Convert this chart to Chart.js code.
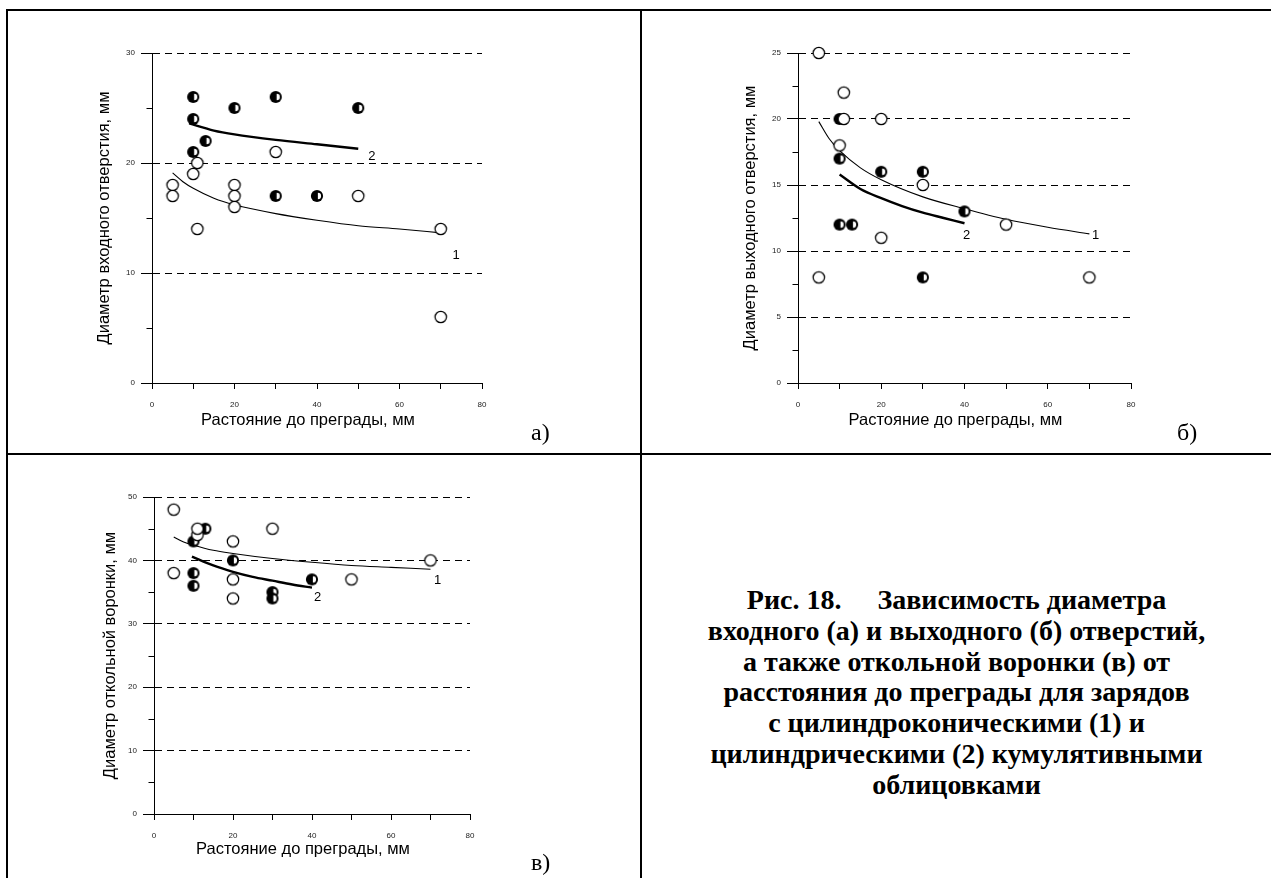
<!DOCTYPE html>
<html>
<head>
<meta charset="utf-8">
<script src="https://cdn.jsdelivr.net/npm/chart.js@4.4.1/dist/chart.umd.min.js"></script>
<style>
  html, body { margin: 0; padding: 0; background: #fff; }
  body { width: 1271px; height: 878px; position: relative; overflow: hidden;
         font-family: "Liberation Serif", "Times New Roman", serif; color: #000; }
  .rule { position: absolute; background: #000; }
  .panel { position: absolute; }
  .tag { position: absolute; font-size: 24px; line-height: 24px; }
  #caption { position: absolute; left: 642px; width: 629px; top: 585px; text-align: center;
             font-weight: bold; font-size: 28px; line-height: 30.8px; white-space: nowrap; }
  #caption .gap { display: inline-block; width: 36px; }
</style>
</head>
<body>

<!-- table rules -->
<div class="rule" style="left:6px;top:9px;width:1265px;height:2px"></div>
<div class="rule" style="left:6px;top:9px;width:2px;height:869px"></div>
<div class="rule" style="left:6px;top:453px;width:1265px;height:2px"></div>
<div class="rule" style="left:640px;top:9px;width:2px;height:869px"></div>

<canvas id="chartA" class="panel" style="left:40px;top:20px" width="580" height="425"></canvas>
<canvas id="chartB" class="panel" style="left:685px;top:20px" width="580" height="425"></canvas>
<canvas id="chartC" class="panel" style="left:40px;top:465px" width="580" height="405"></canvas>

<div class="tag" style="left:531px;top:420px">а)</div>
<div class="tag" style="left:1177px;top:420px">б)</div>
<div class="tag" style="left:531px;top:850px">в)</div>

<div id="caption">Рис. 18.<span class="gap"></span>Зависимость диаметра<br>входного (а) и выходного (б) отверстий,<br>а также откольной воронки (в) от<br>расстояния до преграды для зарядов<br>с цилиндроконическими (1) и<br>цилиндрическими (2) кумулятивными<br>облицовками</div>

<script>
// ---- а) entry-hole diameter ----
const distA_open = [5, 5, 10, 11, 11, 20, 20, 20, 30, 50, 70, 70];
const diamA_open = [18, 17, 19, 20, 14, 18, 17, 16, 21, 17, 14, 6];
const distA_half = [10, 10, 10, 13, 20, 30, 50, 30, 40];
const diamA_half = [26, 24, 21, 22, 25, 26, 25, 17, 17];
const fitA1_x = [5, 7.5, 10, 15, 20, 30, 40, 50, 60, 70];
const fitA1_y = [19.1, 18.3, 17.7, 16.8, 16.2, 15.4, 14.8, 14.3, 14.0, 13.65];
const fitA2_x = [9, 15, 20, 30, 40, 50];
const fitA2_y = [23.6, 22.95, 22.6, 22.1, 21.7, 21.3];
const tagsA = [['1', 73.7, 11.6], ['2', 53.3, 20.6]];

// ---- б) exit-hole diameter ----
const distB_open = [5, 11, 11, 20, 10, 30, 20, 50, 5, 70];
const diamB_open = [25, 22, 20, 20, 18, 15, 11, 12, 8, 8];
const distB_half = [10, 10, 20, 30, 10, 13, 40, 30];
const diamB_half = [20, 17, 16, 16, 12, 12, 13, 8];
const fitB1_x = [5, 7.5, 10, 15, 20, 30, 40, 50, 60, 70];
const fitB1_y = [19.8, 18.5, 17.6, 16.3, 15.4, 14.1, 13.2, 12.4, 11.8, 11.3];
const fitB2_x = [10, 15, 20, 25, 30, 35, 40];
const fitB2_y = [15.8, 14.7, 14.0, 13.4, 12.9, 12.5, 12.1];
const tagsB = [['1', 71.5, 11.2], ['2', 40.5, 11.2]];

// ---- в) spall crater diameter ----
const distC_open = [5, 11, 11, 30, 20, 5, 20, 20, 50, 70];
const diamC_open = [48, 44, 45, 45, 43, 38, 37, 34, 37, 40];
const distC_half = [10, 13, 20, 10, 10, 40, 30, 30];
const diamC_half = [43, 45, 40, 38, 36, 37, 35, 34];
const fitC1_x = [5, 7.5, 10, 15, 20, 30, 40, 50, 60, 70];
const fitC1_y = [43.7, 42.9, 42.4, 41.6, 41.1, 40.3, 39.7, 39.2, 38.9, 38.6];
const fitC2_x = [9.6, 15, 20, 25, 30, 35, 40];
const fitC2_y = [40.6, 39.2, 38.2, 37.4, 36.8, 36.2, 35.7];
const tagsC = [['1', 71.8, 36.8], ['2', 41.4, 34.1]];

const xTicksLabelled = [0, 20, 40, 60, 80];
const X_TITLE = 'Растояние до преграды, мм';
const SANS = '"Liberation Sans", Arial, sans-serif';

// Marker sprites: open circle and half-filled circle
function sprite(draw) {
  const c = document.createElement('canvas');
  c.width = 16; c.height = 16;
  draw(c.getContext('2d'));
  return c;
}
const OPEN = sprite(g => {
  g.beginPath(); g.arc(8, 8, 5.7, 0, Math.PI * 2);
  g.fillStyle = '#fff'; g.fill();
  g.lineWidth = 1.25; g.strokeStyle = '#000'; g.stroke();
});
const HALF = sprite(g => {
  g.beginPath(); g.arc(8, 8, 6.1, 0, Math.PI * 2);
  g.fillStyle = '#000'; g.fill();
  g.beginPath(); g.arc(8.9, 8, 3.2, -Math.PI / 2, Math.PI / 2); g.closePath();
  g.fillStyle = '#fff'; g.fill();
});

const zip = (xs, ys) => xs.map((v, i) => ({ x: v, y: ys[i] }));

// Minor y ticks, curve numbers and the distance-axis title
const extras = {
  id: 'extras',
  afterDatasetsDraw(chart, args, opts) {
    const { ctx, chartArea, scales: { x, y } } = chart;
    ctx.save();
    ctx.strokeStyle = '#000'; ctx.lineWidth = 1;
    const left = Math.round(x.getPixelForValue(0)) + 0.5;
    for (let v = opts.major / 2; v < opts.max; v += opts.major) {
      const py = Math.round(y.getPixelForValue(v)) + 0.5;
      ctx.beginPath(); ctx.moveTo(left - 6, py); ctx.lineTo(left, py); ctx.stroke();
    }
    ctx.font = '13px ' + SANS;
    ctx.fillStyle = '#000'; ctx.textAlign = 'center'; ctx.textBaseline = 'middle';
    opts.tags.forEach(([t, vx, vy]) => ctx.fillText(t, x.getPixelForValue(vx), y.getPixelForValue(vy)));
    ctx.font = '16.5px ' + SANS;
    ctx.fillText(X_TITLE, (chartArea.left + chartArea.right) / 2 - 9, chartArea.bottom + opts.titleDrop);
    ctx.restore();
  }
};

function build(id, p) {
  const tickFont = { family: SANS, size: 8 };
  const titleFont = { family: SANS, size: 16.5 };
  return new Chart(document.getElementById(id), {
    type: 'scatter',
    data: {
      datasets: [
        { data: zip(p.openX, p.openY), pointStyle: OPEN, pointRadius: 6, order: 1, clip: false },
        { data: zip(p.halfX, p.halfY), pointStyle: HALF, pointRadius: 6, order: 2, clip: false },
        { data: zip(p.fit1X, p.fit1Y), showLine: true, pointRadius: 0, borderColor: '#000',
          borderWidth: 1.1, cubicInterpolationMode: 'monotone', order: 3 },
        { data: zip(p.fit2X, p.fit2Y), showLine: true, pointRadius: 0, borderColor: '#000',
          borderWidth: 2.4, cubicInterpolationMode: 'monotone', order: 3 }
      ]
    },
    options: {
      responsive: false, animation: false, events: [],
      layout: { padding: { left: 0, top: p.padTop, right: p.padRight, bottom: 0 } },
      plugins: { legend: { display: false }, tooltip: { enabled: false },
                 extras: { major: p.yMajor, max: p.yMax, tags: p.tags, titleDrop: p.titleDrop } },
      scales: {
        x: {
          type: 'linear', min: 0, max: 80,
          afterFit: s => { s.height = p.xH; },
          ticks: { stepSize: 10, autoSkip: false, maxRotation: 0, padding: 11, color: '#222', font: tickFont,
                   callback: v => xTicksLabelled.includes(v) ? String(v) : '' },
          grid: { display: true, drawOnChartArea: false, drawTicks: true, tickLength: 6, tickColor: '#000', color: '#000' },
          border: { display: true, color: '#000', width: 1 },
          title: { display: false }
        },
        y: {
          type: 'linear', min: 0, max: p.yMax,
          afterFit: s => { s.width = p.yW; },
          ticks: { stepSize: p.yMajor / 2, autoSkip: false, padding: 6, color: '#222', font: tickFont,
                   callback: v => (v % p.yMajor === 0 ? String(v) : '') },
          grid: {
            display: true, drawOnChartArea: true, drawTicks: true, tickLength: 11, lineWidth: 1,
            color: c => (c.tick && c.tick.value % p.yMajor === 0 && c.tick.value !== 0) ? '#000' : 'rgba(0,0,0,0)',
            tickColor: c => (c.tick && c.tick.value % p.yMajor === 0) ? '#000' : 'rgba(0,0,0,0)'
          },
          border: { display: true, color: '#000', width: 1, dash: [7, 5] },
          title: { display: true, text: p.yTitle, color: '#000', font: titleFont,
                   padding: { top: p.yTitlePad, bottom: 0 } }
        }
      }
    },
    plugins: [extras]
  });
}

build('chartA', {
  openX: distA_open, openY: diamA_open, halfX: distA_half, halfY: diamA_half,
  fit1X: fitA1_x, fit1Y: fitA1_y, fit2X: fitA2_x, fit2Y: fitA2_y, tags: tagsA,
  yMax: 30, yMajor: 10, yTitle: 'Диаметр входного отверстия, мм',
  padTop: 33, padRight: 138, yW: 112, xH: 62, yTitlePad: 55, titleDrop: 37
});
build('chartB', {
  openX: distB_open, openY: diamB_open, halfX: distB_half, halfY: diamB_half,
  fit1X: fitB1_x, fit1Y: fitB1_y, fit2X: fitB2_x, fit2Y: fitB2_y, tags: tagsB,
  yMax: 25, yMajor: 5, yTitle: 'Диаметр выходного отверстия, мм',
  padTop: 33, padRight: 134, yW: 113, xH: 62, yTitlePad: 56, titleDrop: 37
});
build('chartC', {
  openX: distC_open, openY: diamC_open, halfX: distC_half, halfY: diamC_half,
  fit1X: fitC1_x, fit1Y: fitC1_y, fit2X: fitC2_x, fit2Y: fitC2_y, tags: tagsC,
  yMax: 50, yMajor: 10, yTitle: 'Диаметр откольной воронки, мм',
  padTop: 32, padRight: 150, yW: 114, xH: 56, yTitlePad: 61, titleDrop: 35
});
</script>
</body>
</html>
